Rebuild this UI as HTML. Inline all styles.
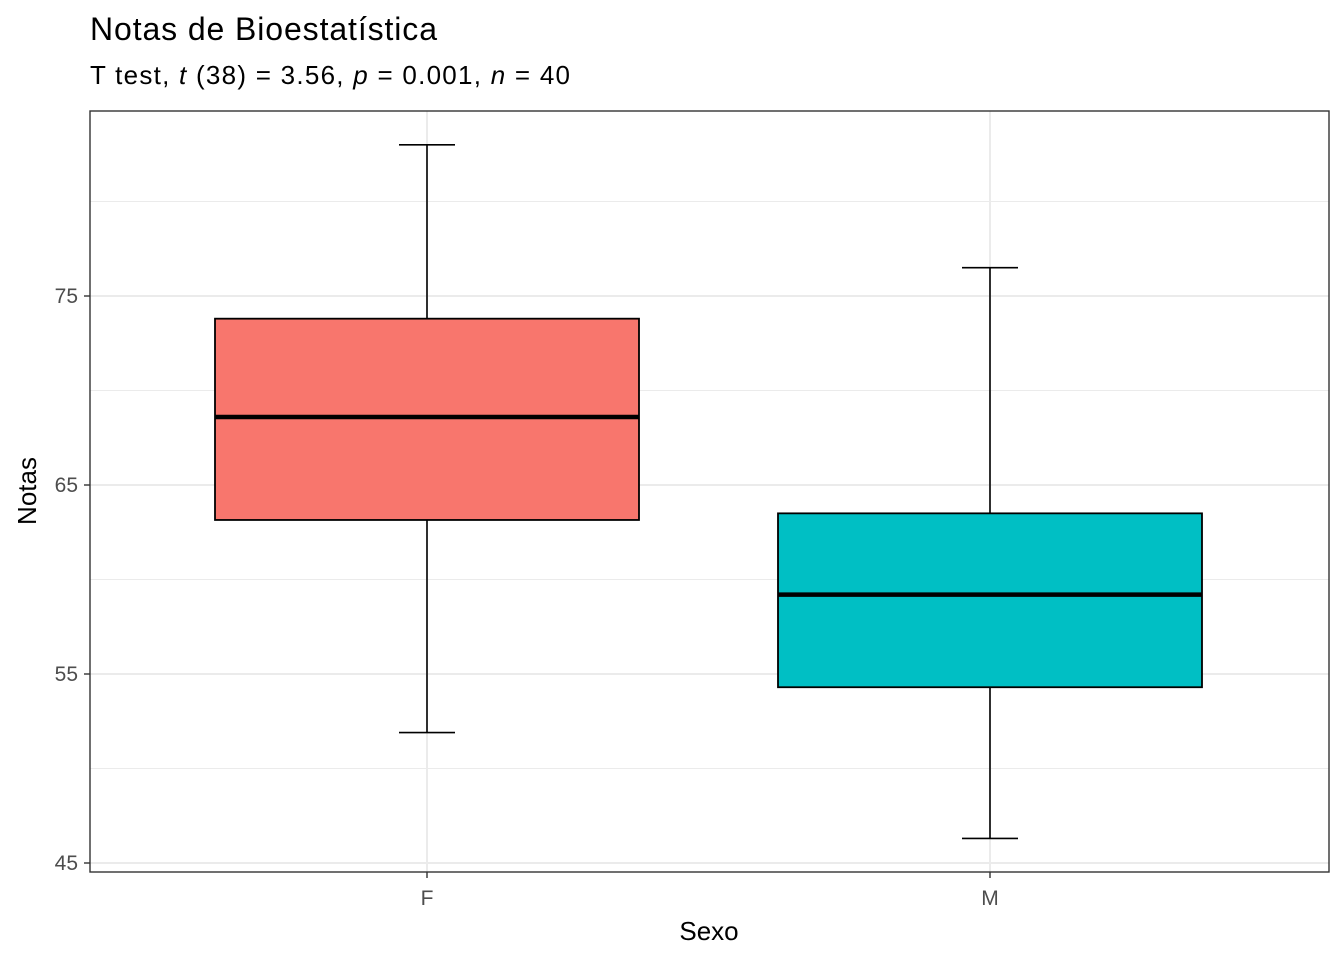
<!DOCTYPE html>
<html><head><meta charset="utf-8"><style>
body{margin:0;background:#fff;font-family:"Liberation Sans",Arial,sans-serif}
</style></head><body>
<svg width="1344" height="960" xmlns="http://www.w3.org/2000/svg" font-family="Liberation Sans, Arial, sans-serif">
<text x="90" y="40" font-size="32" fill="#000" textLength="347" lengthAdjust="spacing">Notas de Bioestatística</text>
<text x="90" y="84" font-size="26" fill="#000" textLength="480" lengthAdjust="spacing">T test, <tspan font-style="italic">t</tspan> (38) = 3.56, <tspan font-style="italic">p</tspan>  = 0.001, <tspan font-style="italic">n</tspan>  = 40</text>
<g id="grid"></g>
<g id="marks"></g>
<rect x="90" y="111" width="1239" height="761" fill="none" stroke="#333" stroke-width="1.4"/>
<g id="axes"></g>
<text x="709" y="940" font-size="26" text-anchor="middle">Sexo</text>
<text x="0" y="0" font-size="26" text-anchor="middle" transform="translate(36,491) rotate(-90)">Notas</text>
</svg>
<script>
const categories=["F","M"];
const lowerWhisker=[51.9,46.3];
const q1=[63.15,54.3];
const median=[68.6,59.2];
const q3=[73.8,63.5];
const upperWhisker=[83.0,76.5];
const fills=["#F8766D","#00BFC4"];
const yTicks=[45,55,65,75];
const yMinor=[50,60,70,80];
const ns="http://www.w3.org/2000/svg";
const y=v=>863-(v-45)*18.9;
const x=i=>427+i*563;
function mk(t,a,p){const e=document.createElementNS(ns,t);for(const k in a)e.setAttribute(k,a[k]);p.appendChild(e);return e;}
const grid=document.getElementById('grid'),marks=document.getElementById('marks'),axes=document.getElementById('axes');
yMinor.forEach(v=>{const l=mk('line',{x1:90,x2:1329,y1:y(v),y2:y(v),stroke:'#ebebeb','stroke-width':1},grid);

});
yTicks.forEach(v=>{const l=mk('line',{x1:90,x2:1329,y1:y(v),y2:y(v),stroke:'#ebebeb','stroke-width':2},grid);


const t=mk('line',{x1:84,x2:90,y1:y(v),y2:y(v),stroke:'#333','stroke-width':1.4},axes);


const tx=mk('text',{x:78,y:y(v)+7,'font-size':21,'text-anchor':'end',fill:'#4d4d4d'},axes);tx.textContent=v;

});
categories.forEach((c,i)=>{const cx=x(i);
const g=mk('line',{x1:cx,x2:cx,y1:111,y2:872,stroke:'#ebebeb','stroke-width':2},grid);


const w=mk('line',{x1:cx,x2:cx,y1:y(upperWhisker[i]),y2:y(lowerWhisker[i]),stroke:'#000','stroke-width':1.6},marks);


[upperWhisker[i],lowerWhisker[i]].forEach(v=>{const cap=mk('line',{x1:cx-28,x2:cx+28,y1:y(v),y2:y(v),stroke:'#000','stroke-width':1.6},marks);

});
const b=mk('rect',{x:cx-212,width:424,y:y(q3[i]),height:y(q1[i])-y(q3[i]),fill:fills[i],stroke:'#000','stroke-width':1.8},marks);


const m=mk('line',{x1:cx-212,x2:cx+212,y1:y(median[i]),y2:y(median[i]),stroke:'#000','stroke-width':4.5},marks);


const t=mk('line',{x1:cx,x2:cx,y1:872,y2:878,stroke:'#333','stroke-width':1.4},axes);


const tx=mk('text',{x:cx,y:905,'font-size':21,'text-anchor':'middle',fill:'#4d4d4d'},axes);tx.textContent=c;

});
</script>
</body></html>
